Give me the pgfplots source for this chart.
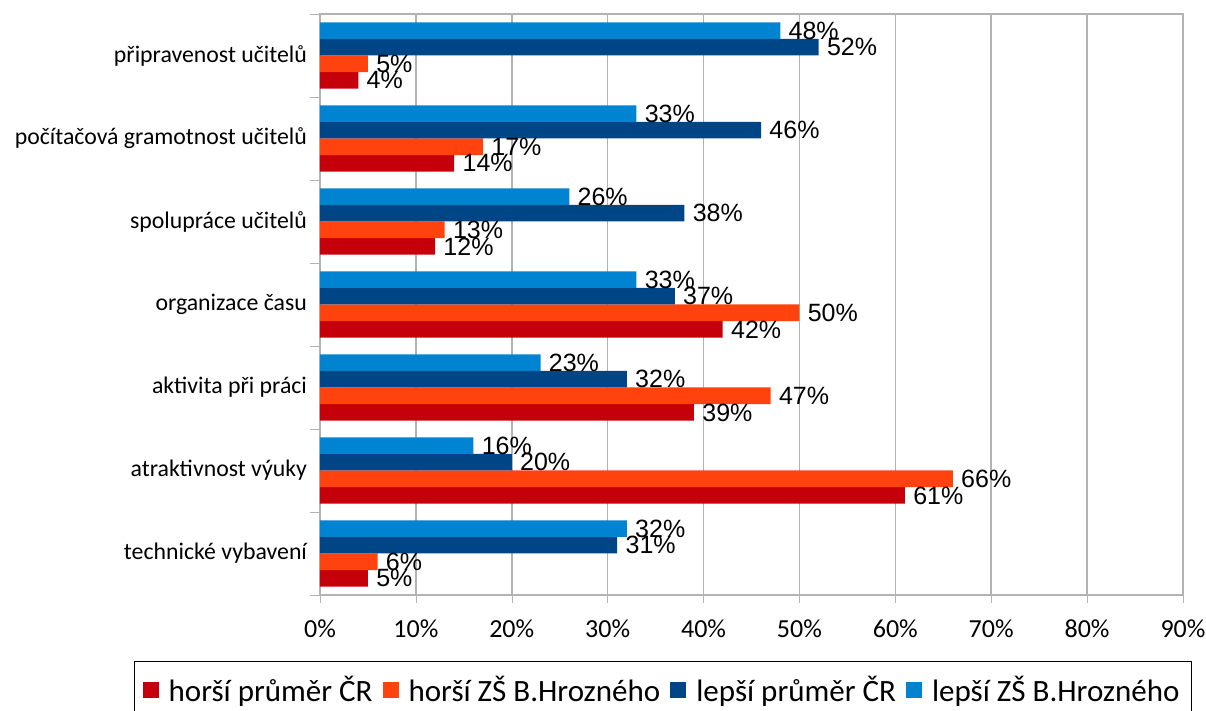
\documentclass[border=0pt]{standalone}
\usepackage{fontspec}
\setmainfont{Carlito}
\newfontfamily\arialf{Liberation Sans}
\usepackage{pgfplots}
\pgfplotsset{compat=1.18}
\usetikzlibrary{calc}

\definecolor{hcr}{HTML}{C5000B}
\definecolor{hzs}{HTML}{FF420E}
\definecolor{lcr}{HTML}{004586}
\definecolor{lzs}{HTML}{0084D1}
\definecolor{gridc}{HTML}{B3B3B3}

\begin{document}
\begin{tikzpicture}
\begin{axis}[
  scale only axis,
  width=431.5pt, height=290.5pt,
  xbar, bar width=0.2,
  xmin=0, xmax=90,
  ymin=-0.5, ymax=6.5,
  xtick={0,10,...,90},
  xticklabels={0\%,10\%,20\%,30\%,40\%,50\%,60\%,70\%,80\%,90\%},
  xticklabel style={font=\fontsize{13}{15}\selectfont, yshift=-5pt},
  ytick={0,...,6},
  yticklabels={technické vybavení, atraktivnost výuky, aktivita při práci,
    organizace času, spolupráce učitelů, počítačová gramotnost učitelů,
    připravenost učitelů},
  yticklabel style={font=\fontsize{11.9}{14}\selectfont, xshift=1pt},
  minor ytick={-0.5,0.5,...,6.5},
  major tick length=4pt, minor tick length=5pt,
  tick align=outside,
  tick pos=left,
  major y tick style={draw=none},
  tick style={gridc},
  xmajorgrids, grid style={gridc, line width=0.8pt},
  axis line style={gridc, line width=0.8pt},
  point meta=x,
  nodes near coords={\pgfmathprintnumber[assume math mode=true]{\pgfplotspointmeta}\%},
  every node near coord/.append style={font=\arialf\fontsize{12.5}{14}\selectfont,
    anchor=west, inner sep=0pt, xshift=4pt, black},
  legend columns=4,
  legend style={at={(axis description cs:0,0)}, anchor=north west,
    xshift=-93pt, yshift=-33pt, draw=black, line width=0.7pt,
    font=\fontsize{15.5}{18}\selectfont, inner xsep=4pt, inner ysep=5pt,
    /tikz/every even column/.append style={column sep=3pt}},
  legend image code/.code={\fill[#1, draw=none] (0pt,-4pt) rectangle (8pt,4pt);
    \path (11pt,0pt);},
]
\addplot[fill=hcr, draw=none, bar shift=-0.3] coordinates {
  (5,0) (61,1) (39,2) (42,3) (12,4) (14,5) (4,6)};
\addplot[fill=hzs, draw=none, bar shift=-0.1] coordinates {
  (6,0) (66,1) (47,2) (50,3) (13,4) (17,5) (5,6)};
\addplot[fill=lcr, draw=none, bar shift=0.1] coordinates {
  (31,0) (20,1) (32,2) (37,3) (38,4) (46,5) (52,6)};
\addplot[fill=lzs, draw=none, bar shift=0.3] coordinates {
  (32,0) (16,1) (23,2) (33,3) (26,4) (33,5) (48,6)};
\legend{horší průměr ČR, horší ZŠ B.Hrozného, lepší průměr ČR, lepší ZŠ B.Hrozného}
\coordinate (sw) at (rel axis cs:0,0);
\end{axis}
\pgfresetboundingbox
\path[use as bounding box] ($(sw)+(-160pt,-58pt)$) rectangle ($(sw)+(443pt,297.5pt)$);
\end{tikzpicture}
\end{document}
